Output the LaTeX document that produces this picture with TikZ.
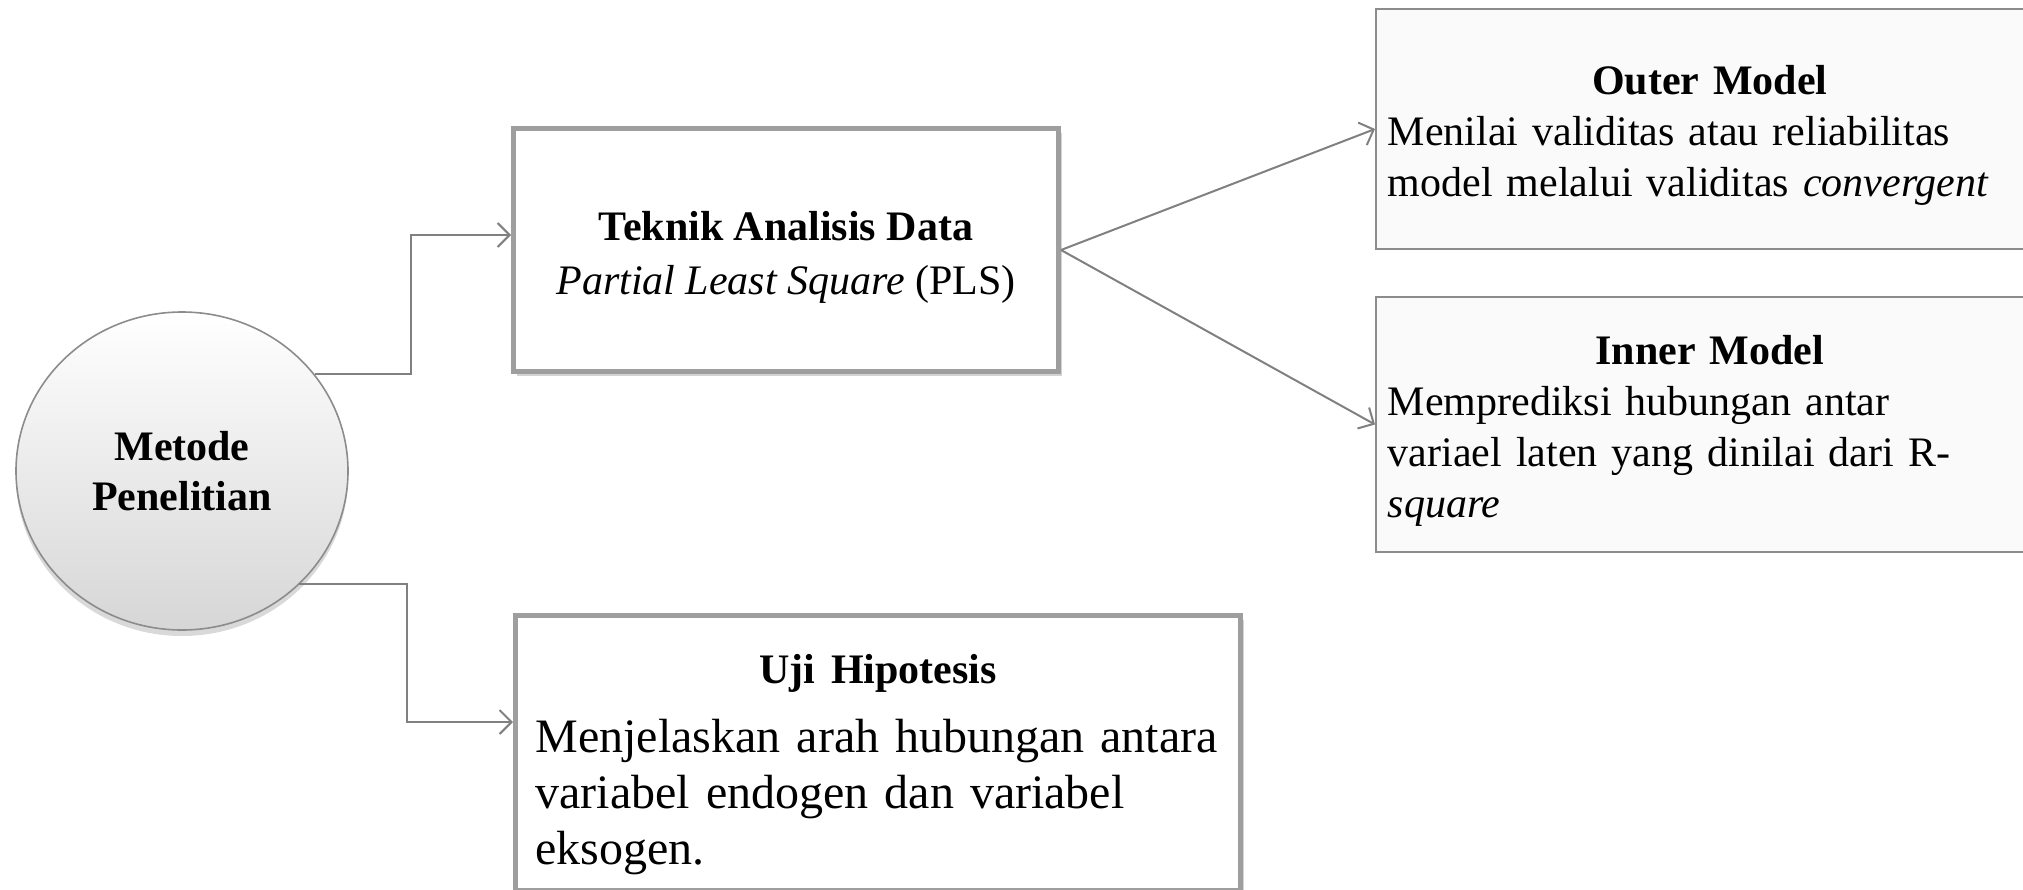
\documentclass[tikz,border=0pt]{standalone}
\usepackage{fontspec}
\setmainfont{Liberation Serif}
\usetikzlibrary{arrows.meta,shadows,shapes.geometric}

\begin{document}
\begin{tikzpicture}[x=0.5pt,y=-0.5pt]
	\tikzstyle{conn} = [draw=black!50, line width=1pt, -{Straight Barb[length=6pt,width=12pt]}]
	\tikzstyle{heavy box} = [draw=black!38, line width=2.5pt, fill=white, drop shadow={shadow xshift=1.5pt,shadow yshift=-2pt,opacity=0.35}]
	\tikzstyle{light box} = [draw=black!45, line width=0.8pt, fill=black!2, font=\fontsize{21}{25.5}\selectfont, text width=322pt, inner xsep=6pt, align=left, anchor=west]
	\useasboundingbox (0,0) rectangle (2023,889);
	\clip (0,0) rectangle (2023,889);
		\node[ellipse, minimum width=166pt, minimum height=159pt, inner sep=0pt, draw=black!45, line width=0.8pt, top color=white, bottom color=black!16, drop shadow={shadow xshift=0pt,shadow yshift=-3pt,opacity=0.3}, align=center, font=\fontsize{21}{25}\selectfont\bfseries] (metode) at (182,471) {Metode\\Penelitian};
		\node[heavy box, minimum width=272.5pt, minimum height=121.5pt, align=center, font=\fontsize{21}{27}\selectfont] (teknik) at (786,250) {\rule{0pt}{21.5pt}\textbf{Teknik Analisis Data}\\\textit{Partial Least Square} (PLS)};
		\node[light box, minimum height=120pt] (outer) at (1375,129) {{\centering\rule{0pt}{21pt}\textbf{Outer Model}\par}Menilai validitas atau reliabilitas\\model melalui validitas \textit{convergent}};
		\node[light box, minimum height=127.5pt] (inner) at (1375,424.5) {{\centering\rule{0pt}{21pt}\textbf{Inner Model}\par}Memprediksi hubungan antar\\variael laten yang dinilai dari R-\\\textit{square}};
		\node[heavy box, anchor=north west, text width=342.5pt, inner xsep=10pt, minimum height=137.5pt, align=left, font=\fontsize{24}{28}\selectfont] (uji) at (513,613) {{\centering\fontsize{21}{25}\selectfont\rule{0pt}{26pt}\textbf{Uji Hipotesis}\par}\vspace{6.5pt}Menjelaskan arah hubungan antara\\variabel endogen dan variabel\\eksogen.};
	\draw[conn] (metode.36) -- ++(96,0) |- ([yshift=7.5pt]teknik.west);
	\draw[conn] (metode.-44) -- ++(108,0) |- ([yshift=15.5pt]uji.west);
	\draw[conn] (teknik.east) -- (outer.west);
	\draw[conn] (teknik.east) -- (inner.west);
	\end{tikzpicture}
\end{document}
